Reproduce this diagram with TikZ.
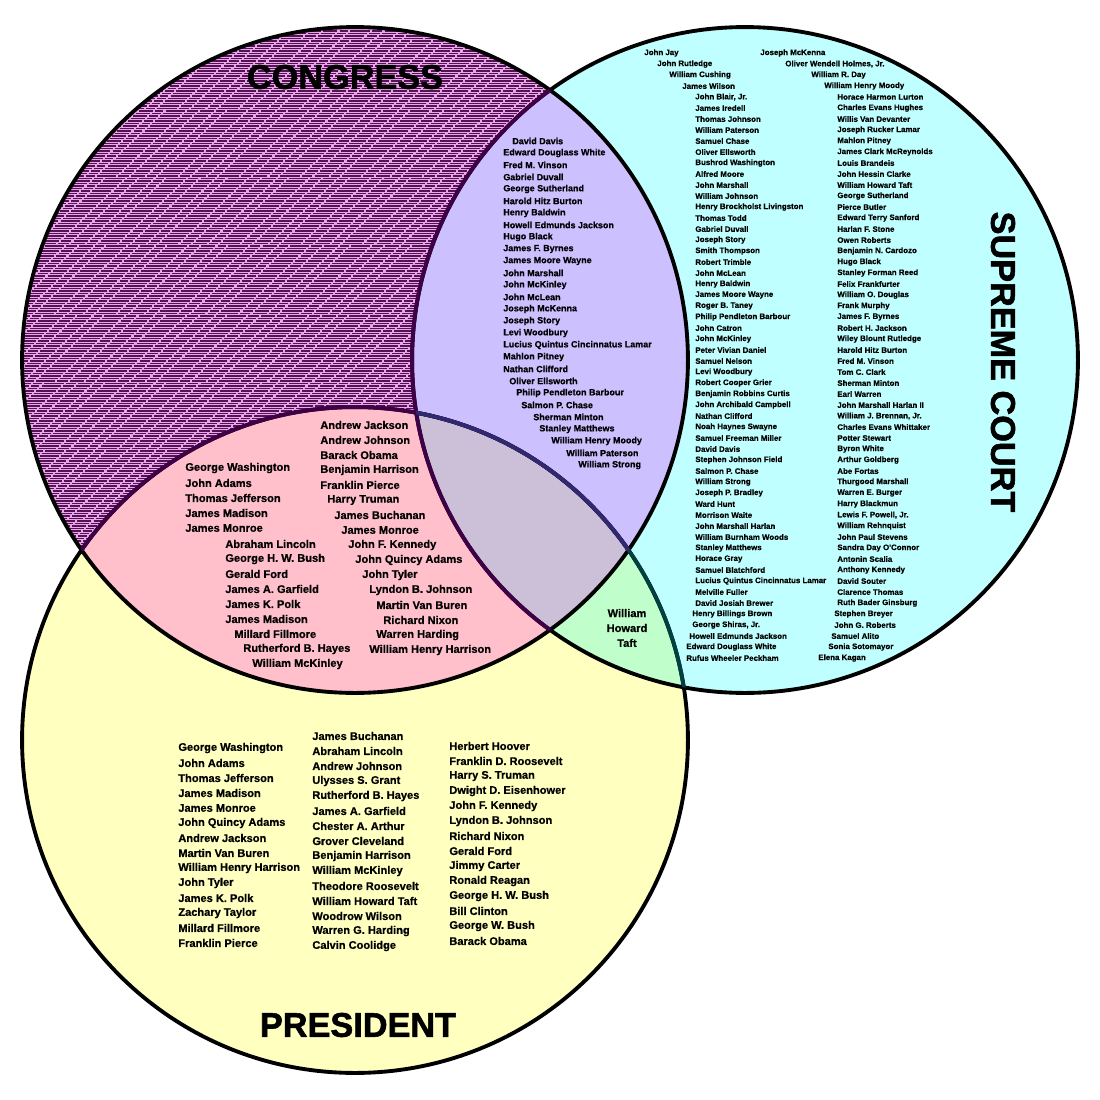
\documentclass[tikz,border=0pt]{standalone}
\usepackage{fontspec}
\setmainfont{Liberation Sans}
\newfontfamily\heavyname{Liberation Sans Bold}[FakeBold=0.6]
\newfontfamily\heavytitle{Liberation Sans Bold}[FakeBold=1.6]

\definecolor{congbg}{RGB}{236,166,236}
\definecolor{congtxt}{RGB}{84,20,84}
\definecolor{supfill}{RGB}{192,255,255}
\definecolor{presfill}{RGB}{255,255,192}
\definecolor{csfill}{RGB}{204,192,255}
\definecolor{cpfill}{RGB}{255,192,204}
\definecolor{spfill}{RGB}{192,255,204}
\definecolor{cspfill}{RGB}{204,192,216}
\definecolor{rimpurple}{RGB}{64,0,72}
\definecolor{rimteal}{RGB}{0,64,64}
\definecolor{rimnavy}{RGB}{48,40,112}

\begin{document}
\begin{tikzpicture}[
  x=0.02cm, y=-0.02cm,
  rim/.style     ={line width=2.2pt},
  texture/.style ={congtxt, line width=0.65pt,
                   dash pattern=on 8pt off 1.2pt on 5pt off 1.2pt on 11pt off 1.2pt on 6pt off 1.2pt},
  title/.style   ={font=\heavytitle\fontsize{19.5}{20}\selectfont, inner sep=0pt},
  justice/.style ={font=\heavyname\fontsize{4.5}{5}\selectfont, inner sep=0pt, anchor=west},
  both/.style    ={font=\heavyname\fontsize{5.1}{6}\selectfont, inner sep=0pt, anchor=west},
  pname/.style   ={font=\heavyname\fontsize{6.3}{8.5}\selectfont, inner sep=0pt, anchor=west},
]
  \useasboundingbox (0,0) rectangle (1100,1100);
  \def\R{6.66cm}
  \coordinate (cong) at (355,360);
  \coordinate (sup)  at (745,360);
  \coordinate (pres) at (355,740);

  % congress: wall of tiny names
  \begin{scope}
    \clip (cong) circle[radius=\R];
    \fill[congbg] (cong) circle[radius=\R];
    \foreach \r [evaluate=\r as \ph using {mod(\r*17,41)}] in {26,28.5,...,696}
      \draw[texture, dash phase=\ph pt] (18,\r) -- (692,\r);
  \end{scope}
  \fill[presfill] (pres) circle[radius=\R];
  \fill[supfill]  (sup)  circle[radius=\R];
  \begin{scope}
    \clip (cong) circle[radius=\R];
    \fill[csfill] (sup)  circle[radius=\R];
    \fill[cpfill] (pres) circle[radius=\R];
    \clip (sup) circle[radius=\R];
    \fill[cspfill] (pres) circle[radius=\R];
  \end{scope}
  \begin{scope}
    \clip (sup) circle[radius=\R];
    \fill[spfill] (pres) circle[radius=\R];
  \end{scope}
  \begin{scope}
    \clip (pres) circle[radius=\R];
    \clip (sup) circle[radius=\R];
    \clip (cong) circle[radius=\R];
    \fill[cspfill] (pres) circle[radius=\R];
  \end{scope}

  % rims
  \draw[rim] (cong) circle[radius=\R] (sup) circle[radius=\R] (pres) circle[radius=\R];
  \begin{scope}
    \clip (sup) circle[radius=\R];
    \draw[rim, rimteal] (pres) circle[radius=\R];
  \end{scope}
  \begin{scope}
    \clip (cong) circle[radius=\R];
    \draw[rim, rimpurple] (sup) circle[radius=\R] (pres) circle[radius=\R];
    \clip (sup) circle[radius=\R];
    \draw[rim, rimnavy] (pres) circle[radius=\R];
  \end{scope}

  % titles
  \node[title] (t-cong) at (345,77) {CONGRESS};
  \node[title] (t-pres) at (358,1025) {PRESIDENT};
  \node[title, rotate=-90] (t-sup) at (1003,362) {SUPREME COURT};

  % supreme court only
  \foreach \x/\t [count=\i] in {644/John Jay, 657/John Rutledge, 669/William Cushing,
      682/James Wilson, 695/{John Blair, Jr.}, 695/James Iredell, 695/Thomas Johnson,
      695/William Paterson, 695/Samuel Chase, 695/Oliver Ellsworth, 695/Bushrod Washington,
      695/Alfred Moore, 695/John Marshall, 695/William Johnson,
      695/Henry Brockholst Livingston, 695/Thomas Todd, 695/Gabriel Duvall,
      695/Joseph Story, 695/Smith Thompson, 695/Robert Trimble, 695/John McLean,
      695/Henry Baldwin, 695/James Moore Wayne, 695/Roger B. Taney,
      695/Philip Pendleton Barbour, 695/John Catron, 695/John McKinley,
      695/Peter Vivian Daniel, 695/Samuel Nelson, 695/Levi Woodbury,
      695/Robert Cooper Grier, 695/Benjamin Robbins Curtis, 695/John Archibald Campbell,
      695/Nathan Clifford, 695/Noah Haynes Swayne, 695/Samuel Freeman Miller,
      695/David Davis, 695/Stephen Johnson Field, 695/Salmon P. Chase,
      695/William Strong, 695/Joseph P. Bradley, 695/Ward Hunt, 695/Morrison Waite,
      695/John Marshall Harlan, 695/William Burnham Woods, 695/Stanley Matthews,
      695/Horace Gray, 695/Samuel Blatchford, 695/Lucius Quintus Cincinnatus Lamar,
      695/Melville Fuller, 695/David Josiah Brewer, 692/Henry Billings Brown,
      692/{George Shiras, Jr.}, 689/Howell Edmunds Jackson, 686/Edward Douglass White,
      686/Rufus Wheeler Peckham}
    \node[justice] (sa-\i) at (\x,42+11*\i) {\t};
  \foreach \x/\t [count=\i] in {760/Joseph McKenna, 785/{Oliver Wendell Holmes, Jr.},
      811/William R. Day, 824/William Henry Moody, 837/Horace Harmon Lurton,
      837/Charles Evans Hughes, 837/Willis Van Devanter, 837/Joseph Rucker Lamar,
      837/Mahlon Pitney, 837/James Clark McReynolds, 837/Louis Brandeis,
      837/John Hessin Clarke, 837/William Howard Taft, 837/George Sutherland,
      837/Pierce Butler, 837/Edward Terry Sanford, 837/Harlan F. Stone,
      837/Owen Roberts, 837/Benjamin N. Cardozo, 837/Hugo Black,
      837/Stanley Forman Reed, 837/Felix Frankfurter, 837/William O. Douglas,
      837/Frank Murphy, 837/James F. Byrnes, 837/Robert H. Jackson,
      837/Wiley Blount Rutledge, 837/Harold Hitz Burton, 837/Fred M. Vinson,
      837/Tom C. Clark, 837/Sherman Minton, 837/Earl Warren,
      837/John Marshall Harlan II, 837/{William J. Brennan, Jr.},
      837/Charles Evans Whittaker, 837/Potter Stewart, 837/Byron White,
      837/Arthur Goldberg, 837/Abe Fortas, 837/Thurgood Marshall,
      837/Warren E. Burger, 837/Harry Blackmun, 837/{Lewis F. Powell, Jr.},
      837/William Rehnquist, 837/John Paul Stevens, 837/Sandra Day O'Connor,
      837/Antonin Scalia, 837/Anthony Kennedy, 837/David Souter,
      837/Clarence Thomas, 837/Ruth Bader Ginsburg, 834/Stephen Breyer,
      834/John G. Roberts, 831/Samuel Alito, 828/Sonia Sotomayor, 818/Elena Kagan}
    \node[justice] (sb-\i) at (\x,42+11*\i) {\t};

  % congress and supreme court
  \foreach \x/\t [count=\i] in {512/David Davis, 503/Edward Douglass White,
      503/Fred M. Vinson, 503/Gabriel Duvall, 503/George Sutherland,
      503/Harold Hitz Burton, 503/Henry Baldwin, 503/Howell Edmunds Jackson,
      503/Hugo Black, 503/James F. Byrnes, 503/James Moore Wayne, 503/John Marshall,
      503/John McKinley, 503/John McLean, 503/Joseph McKenna, 503/Joseph Story,
      503/Levi Woodbury, 503/Lucius Quintus Cincinnatus Lamar, 503/Mahlon Pitney,
      503/Nathan Clifford, 509/Oliver Ellsworth, 516/Philip Pendleton Barbour,
      521/Salmon P. Chase, 533/Sherman Minton, 539/Stanley Matthews,
      551/William Henry Moody, 566/William Paterson, 578/William Strong}
    \node[both] (cs-\i) at (\x,129+12*\i) {\t};

  % congress and president
  \foreach \x/\y/\t [count=\i] in {320/425/Andrew Jackson, 320/440/Andrew Johnson,
      320/455/Barack Obama, 320/470/Benjamin Harrison, 320/485/Franklin Pierce,
      327/500/Harry Truman, 334/515/James Buchanan, 341/530/James Monroe,
      348/545/John F. Kennedy, 355/560/John Quincy Adams, 362/575/John Tyler,
      369/590/Lyndon B. Johnson, 376/605/Martin Van Buren, 383/620/Richard Nixon,
      376/635/Warren Harding, 369/650/William Henry Harrison,
      185/468/George Washington, 185/483/John Adams, 185/498/Thomas Jefferson,
      185/513/James Madison, 185/528/James Monroe, 225/544/Abraham Lincoln,
      225/559/George H. W. Bush, 225/574/Gerald Ford, 225/589/James A. Garfield,
      225/604/James K. Polk, 225/619/James Madison, 234/634/Millard Fillmore,
      243/649/Rutherford B. Hayes, 252/664/William McKinley}
    \node[pname] (cp-\i) at (\x,\y) {\t};

  % supreme court and president
  \node[pname, anchor=center, align=center] (sp-taft) at (627,628) {William\\Howard\\Taft};

  % president only
  \foreach \t [count=\i] in {George Washington, John Adams, Thomas Jefferson,
      James Madison, James Monroe, John Quincy Adams, Andrew Jackson,
      Martin Van Buren, William Henry Harrison, John Tyler, James K. Polk,
      Zachary Taylor, Millard Fillmore, Franklin Pierce}
    \node[pname] (pa-\i) at (178,733+15*\i) {\t};
  \foreach \t [count=\i] in {James Buchanan, Abraham Lincoln, Andrew Johnson,
      Ulysses S. Grant, Rutherford B. Hayes, James A. Garfield, Chester A. Arthur,
      Grover Cleveland, Benjamin Harrison, William McKinley, Theodore Roosevelt,
      William Howard Taft, Woodrow Wilson, Warren G. Harding, Calvin Coolidge}
    \node[pname] (pb-\i) at (312,721+15*\i) {\t};
  \foreach \t [count=\i] in {Herbert Hoover, Franklin D. Roosevelt, Harry S. Truman,
      Dwight D. Eisenhower, John F. Kennedy, Lyndon B. Johnson, Richard Nixon,
      Gerald Ford, Jimmy Carter, Ronald Reagan, George H. W. Bush, Bill Clinton,
      George W. Bush, Barack Obama}
    \node[pname] (pc-\i) at (449,731+15*\i) {\t};
\end{tikzpicture}
\end{document}
